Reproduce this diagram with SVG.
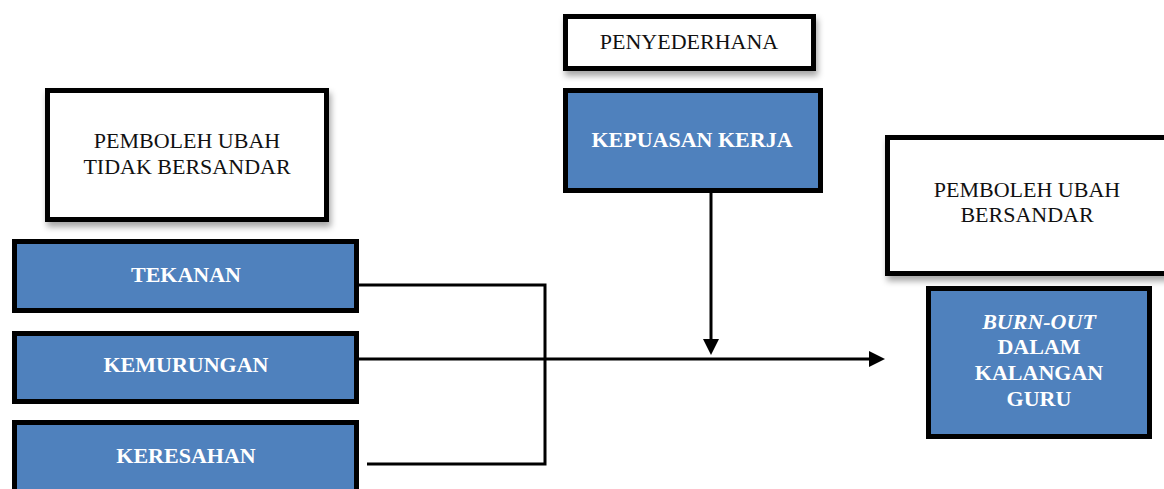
<svg xmlns="http://www.w3.org/2000/svg" width="1164" height="489" viewBox="0 0 1164 489">
  <defs>
    <filter id="shadow" x="-10%" y="-10%" width="125%" height="135%">
      <feDropShadow dx="2" dy="5" stdDeviation="3" flood-color="#000" flood-opacity="0.35"/>
    </filter>
    <marker id="arrow" markerUnits="userSpaceOnUse" markerWidth="17" markerHeight="17" refX="1" refY="8" orient="auto">
      <path d="M0,0 L16,8 L0,16 Z" fill="#000"/>
    </marker>
  </defs>
  <style>
    .white { fill: #ffffff; stroke: #000; stroke-width: 5; }
    .blue { fill: #4f81bd; stroke: #000; stroke-width: 5; }
    .lbl { font-family: "Liberation Serif", "Times New Roman", serif; font-size: 22px; text-anchor: middle; fill: #111; }
    .wlbl { font-family: "Liberation Serif", "Times New Roman", serif; font-size: 22px; font-weight: bold; text-anchor: middle; fill: #ffffff; }
    .conn { fill: none; stroke: #000; stroke-width: 3; }
  </style>
  <rect width="1164" height="489" fill="#ffffff"/>

  <g id="connectors">
    <path class="conn" d="M359,285 H545 V464 H367"/>
    <path class="conn" d="M359,359 H870" marker-end="url(#arrow)"/>
    <path class="conn" d="M711,190 V340" marker-end="url(#arrow)"/>
  </g>

  <g id="node-pemboleh-tidak-bersandar">
    <rect class="white" x="47.5" y="90.5" width="279" height="129" filter="url(#shadow)"/>
    <text class="lbl" x="187" y="148">PEMBOLEH UBAH</text>
    <text class="lbl" x="187" y="174">TIDAK BERSANDAR</text>
  </g>

  <g id="node-tekanan">
    <rect class="blue" x="14.5" y="241.5" width="342" height="69"/>
    <text class="wlbl" x="186" y="282">TEKANAN</text>
  </g>

  <g id="node-kemurungan">
    <rect class="blue" x="14.5" y="333.5" width="342" height="68"/>
    <text class="wlbl" x="186" y="372">KEMURUNGAN</text>
  </g>

  <g id="node-keresahan">
    <rect class="blue" x="14.5" y="422.5" width="342" height="72"/>
    <text class="wlbl" x="186" y="463">KERESAHAN</text>
  </g>

  <g id="node-penyederhana">
    <rect class="white" x="565.5" y="16.5" width="248" height="52" filter="url(#shadow)"/>
    <text class="lbl" x="689" y="49">PENYEDERHANA</text>
  </g>

  <g id="node-kepuasan-kerja">
    <rect class="blue" x="565.5" y="90.5" width="255" height="100"/>
    <text class="wlbl" x="692" y="147">KEPUASAN KERJA</text>
  </g>

  <g id="node-pemboleh-bersandar">
    <rect class="white" x="887.5" y="137.5" width="285" height="136" filter="url(#shadow)"/>
    <text class="lbl" x="1027" y="197">PEMBOLEH UBAH</text>
    <text class="lbl" x="1027" y="222">BERSANDAR</text>
  </g>

  <g id="node-burnout">
    <rect class="blue" x="928.5" y="288.5" width="221" height="148"/>
    <text class="wlbl" x="1039" y="329" font-style="italic">BURN-OUT</text>
    <text class="wlbl" x="1039" y="354">DALAM</text>
    <text class="wlbl" x="1039" y="380">KALANGAN</text>
    <text class="wlbl" x="1039" y="406">GURU</text>
  </g>
</svg>
